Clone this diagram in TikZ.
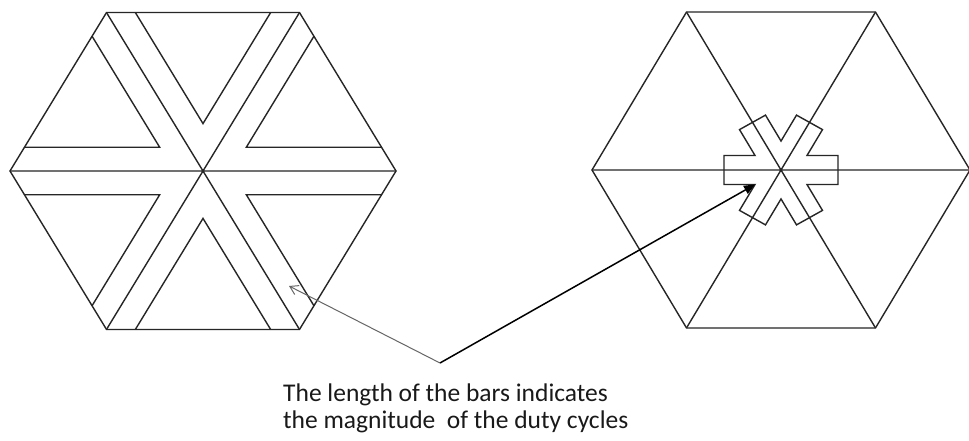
\documentclass[tikz,border=0pt]{standalone}
\usepackage{fontspec}
\setmainfont{Carlito}
\usetikzlibrary{arrows.meta}
\begin{document}
\begin{tikzpicture}[x=1pt,y=-1pt, line join=miter,
  edge/.style={draw=black!85, line width=1.4pt},
  leftarrow/.style={draw=black!60, line width=1pt, -{Straight Barb[length=8pt,width=10pt,line width=1pt]}},
  rightarrow/.style={draw=black, line width=1.5pt, -{Triangle[length=11pt,width=9pt]}},
  caption/.style={anchor=north west, align=left, inner sep=0pt, text=black!90, font=\fontsize{25.5}{27}\selectfont}]
\useasboundingbox (0,0) rectangle (969,441);
\fill[white] (0,0) rectangle (969,441);
% left hexagon: bars of full length
\begin{scope}[shift={(203,171)}, yscale=0.948]
  \draw[edge] (0:193) -- (60:193) -- (120:193) -- (180:193) -- (240:193) -- (300:193) -- cycle;
  \draw[edge] (0:193) -- (180:193) (60:193) -- (240:193) (120:193) -- (300:193);
  \foreach \t in {0,60,...,300}{
    \draw[edge] (\t+30:50) ++(\t:135.2) -- (\t+30:50) -- ++(\t+60:135.2);
  }
\end{scope}
% right hexagon: short bars
\begin{scope}[shift={(781,170)}, yscale=0.965]
  \draw[edge] (0:189) -- (60:189) -- (120:189) -- (180:189) -- (240:189) -- (300:189) -- cycle;
  \draw[edge] (0:189) -- (180:189) (60:189) -- (240:189) (120:189) -- (300:189);
  \draw[edge] (-14.74:58.94)
    \foreach \t in {0,60,...,300}{ -- (\t-14.74:58.94) -- (\t+14.74:58.94) -- (\t+30:30) } -- cycle;
  \coordinate (notch) at (150:30);
\end{scope}
% caption and arrows
\node[caption] (cap) at (283,383.5) {The length of the bars indicates\\the magnitude\ \ of the duty cycles};
\coordinate (fork) at (440,363);
\coordinate (bartip) at (289,286);
\draw[leftarrow] (fork) -- (bartip);
\draw[rightarrow] (fork) -- (notch);
\end{tikzpicture}
\end{document}
